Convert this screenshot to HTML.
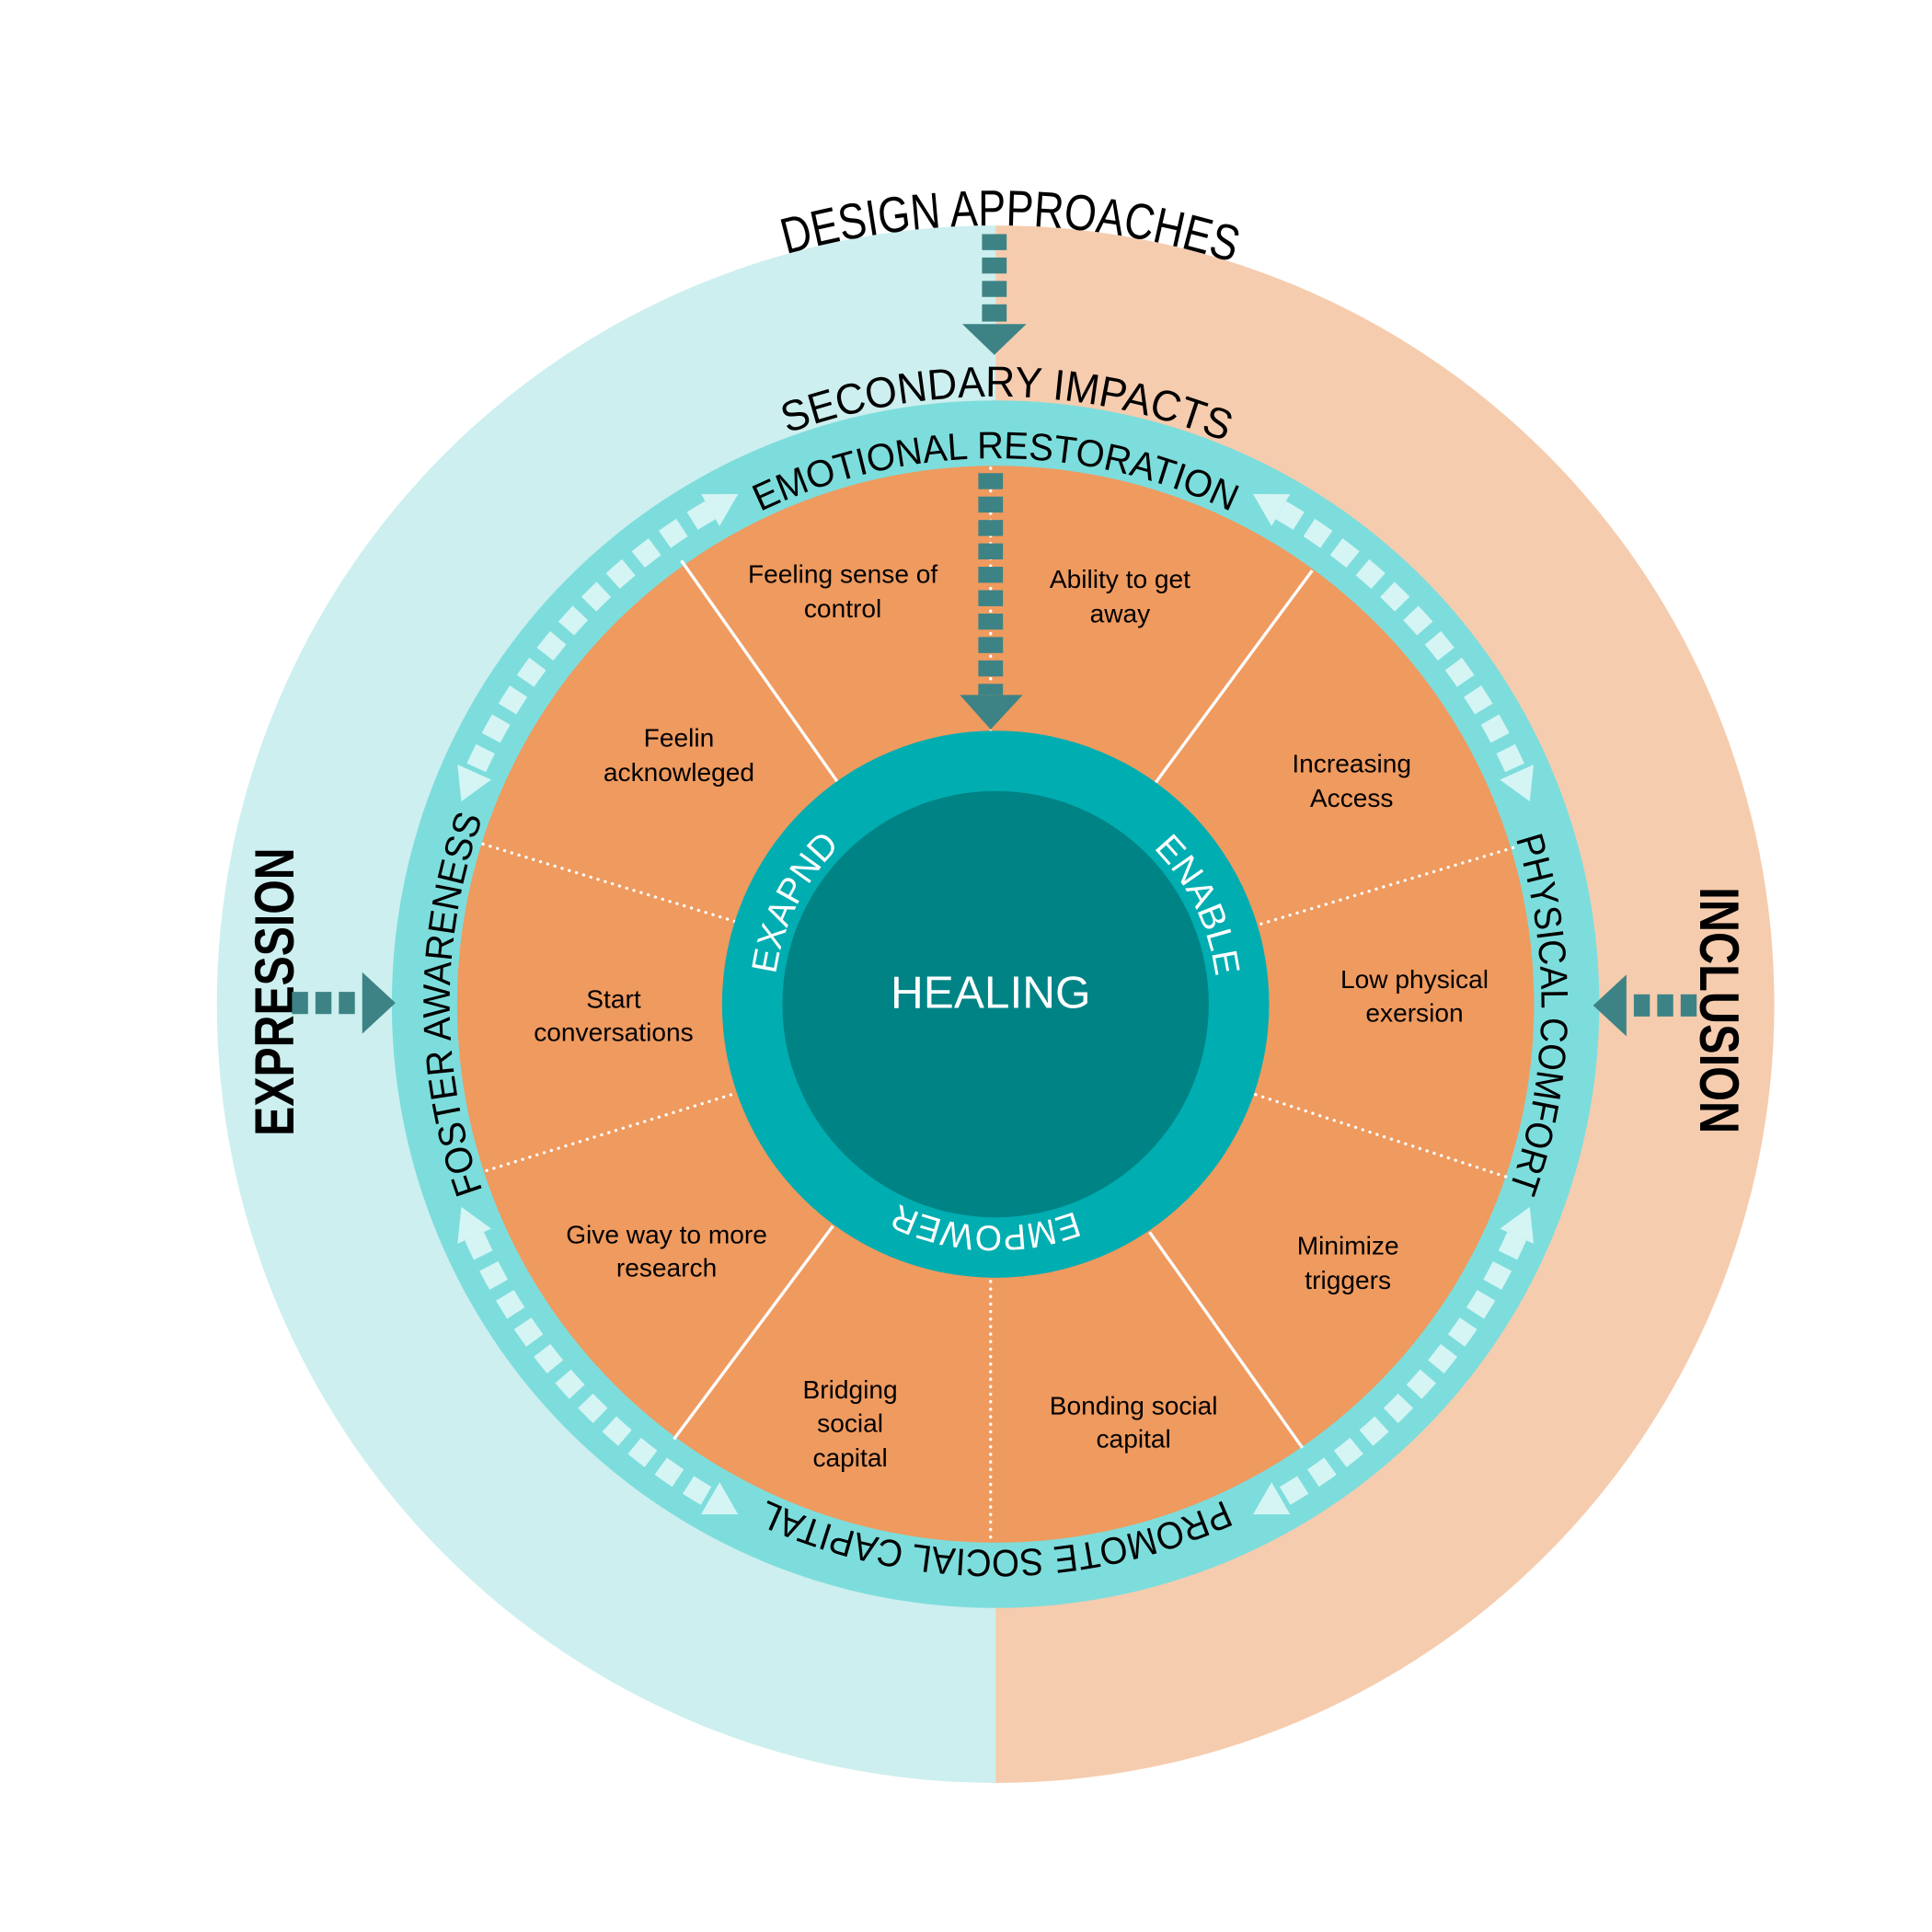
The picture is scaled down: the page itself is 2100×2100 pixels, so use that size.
<!DOCTYPE html>
<html><head><meta charset="utf-8">
<style>html,body{margin:0;padding:0;background:#fff}svg{display:block}
text{font-family:"Liberation Sans",sans-serif}</style></head>
<body>
<svg xmlns="http://www.w3.org/2000/svg" width="2100" height="2100" viewBox="0 0 1568 1568">
<defs>
<marker id="ah" viewBox="-2 -16 30 32" refX="0" refY="0" markerWidth="30" markerHeight="32" markerUnits="userSpaceOnUse" orient="auto-start-reverse">
<path d="M0,-15 L26,0 L0,15 z" fill="#D5F4F4"/></marker>
<path id="pR443" d="M1251,815 A443,443 0 1 1 365,815 A443,443 0 1 1 1251,815"/>
<path id="pL443" d="M365,815 A443,443 0 1 1 1251,815 A443,443 0 1 1 365,815"/>
<path id="pR493" d="M1301,815 A493,493 0 1 1 315,815 A493,493 0 1 1 1301,815"/>
<path id="pR632" d="M1440,815 A632,632 0 1 1 176,815 A632,632 0 1 1 1440,815"/>
<path id="pR180" d="M988,815 A180,180 0 1 1 628,815 A180,180 0 1 1 988,815"/>
</defs>
<path d="M808,183 A632,632 0 0 0 808,1447 Z" fill="#CDEFEF"/>
<path d="M808,183 A632,632 0 0 1 808,1447 Z" fill="#F6CCAE"/>
<circle cx="808" cy="815" r="490" fill="#7DDDDC"/>
<circle cx="808" cy="815" r="437" fill="#EF9A5F"/>
<g stroke="#fff" stroke-width="2.5">
<line x1="553" y1="455" x2="680" y2="635"/>
<line x1="1065" y1="463" x2="938" y2="635"/>
<line x1="547" y1="1168" x2="676" y2="995"/>
<line x1="1057" y1="1175" x2="933" y2="1000"/>
</g>
<g stroke="#fff" stroke-width="2.5" stroke-dasharray="0.1 6" stroke-linecap="round">
<line x1="392" y1="685" x2="597" y2="748"/>
<line x1="1228" y1="688" x2="1023" y2="750"/>
<line x1="395" y1="950" x2="598" y2="887"/>
<line x1="1222" y1="955" x2="1018" y2="888"/>
<line x1="804" y1="1040" x2="804" y2="1250"/>
<line x1="804" y1="380" x2="804" y2="595"/>
</g>
<circle cx="808" cy="815" r="222" fill="#00ADB1"/>
<circle cx="808" cy="815" r="173" fill="#008385"/>
<text x="804" y="818" font-size="37" fill="#fff" text-anchor="middle">HEALING</text>
<g font-size="29" fill="#fff">
<text><textPath href="#pR180" startOffset="57.4%" text-anchor="middle" textLength="119" lengthAdjust="spacingAndGlyphs">EXAPND</textPath></text>
<text><textPath href="#pR180" startOffset="92.8%" text-anchor="middle" textLength="118" lengthAdjust="spacingAndGlyphs">ENABLE</textPath></text>
<text><textPath href="#pR180" startOffset="25.7%" text-anchor="middle" textLength="148" lengthAdjust="spacingAndGlyphs">EMPOWER</textPath></text>
</g>
<g font-size="31" fill="#000">
<text><textPath href="#pR443" startOffset="75%" text-anchor="middle" textLength="395" lengthAdjust="spacingAndGlyphs">EMOTIONAL RESTORATION</textPath></text>
<text><textPath href="#pL443" startOffset="50.3%" text-anchor="middle" textLength="290" lengthAdjust="spacingAndGlyphs">PHYSICAL COMFORT</textPath></text>
<text><textPath href="#pR443" startOffset="50%" text-anchor="middle" textLength="309" lengthAdjust="spacingAndGlyphs">FOSTER AWARENESS</textPath></text>
<text><textPath href="#pR443" startOffset="25%" text-anchor="middle" textLength="383" lengthAdjust="spacingAndGlyphs">PROMOTE SOCIAL CAPITAL</textPath></text>
</g>
<text font-size="35" fill="#000"><textPath href="#pR493" startOffset="75.3%" text-anchor="middle" textLength="364" lengthAdjust="spacingAndGlyphs">SECONDARY IMPACTS</textPath></text>
<text font-size="41" fill="#000"><textPath href="#pR632" startOffset="75.3%" text-anchor="middle" textLength="368" lengthAdjust="spacingAndGlyphs">DESIGN APPROACHES</textPath></text>
<text transform="translate(238,805) rotate(-90)" font-size="45" font-weight="bold" text-anchor="middle" textLength="234" lengthAdjust="spacingAndGlyphs">EXPRESSION</text>
<text transform="translate(1380,820) rotate(90)" font-size="45" font-weight="bold" text-anchor="middle" textLength="200" lengthAdjust="spacingAndGlyphs">INCLUSION</text>
<g fill="none" stroke="#D5F4F4" stroke-width="17" stroke-dasharray="17 10" marker-start="url(#ah)" marker-end="url(#ah)">
<path d="M576.5,414 A463,463 0 0 0 385,626.7"/>
<path d="M1039.5,414 A463,463 0 0 1 1231,626.7"/>
<path d="M385,1003.3 A463,463 0 0 0 576.5,1216"/>
<path d="M1231,1003.3 A463,463 0 0 1 1039.5,1216"/>
</g>
<g fill="#3D8385">
<rect x="797" y="190" width="20" height="13"/><rect x="797" y="209" width="20" height="13"/>
<rect x="797" y="228" width="20" height="13"/><rect x="797" y="247" width="20" height="14"/>
<polygon points="781,263 833,263 807,288"/>
<rect x="794" y="384" width="20" height="13"/><rect x="794" y="403" width="20" height="13"/>
<rect x="794" y="422" width="20" height="13"/><rect x="794" y="441" width="20" height="13"/>
<rect x="794" y="460" width="20" height="13"/><rect x="794" y="479" width="20" height="13"/>
<rect x="794" y="498" width="20" height="13"/><rect x="794" y="517" width="20" height="13"/>
<rect x="794" y="536" width="20" height="13"/><rect x="794" y="555" width="20" height="9"/>
<polygon points="779,564 830,564 804,592"/>
<rect x="237" y="805" width="13" height="18"/><rect x="256" y="805" width="13" height="18"/><rect x="275" y="805" width="13" height="18"/>
<polygon points="294,789 294,839 321,814"/>
<rect x="1326" y="807" width="13" height="18"/><rect x="1345" y="807" width="13" height="18"/><rect x="1364" y="807" width="13" height="18"/>
<polygon points="1320,791 1320,841 1293,816"/>
</g>
<g font-size="21" fill="#000" text-anchor="middle">
<text x="684" y="473">Feeling sense of</text><text x="684" y="501">control</text>
<text x="909" y="477">Ability to get</text><text x="909" y="505">away</text>
<text x="551" y="606">Feelin</text><text x="551" y="634">acknowleged</text>
<text x="1097" y="627">Increasing</text><text x="1097" y="655">Access</text>
<text x="498" y="818">Start</text><text x="498" y="845">conversations</text>
<text x="1148" y="802">Low physical</text><text x="1148" y="829">exersion</text>
<text x="541" y="1009">Give way to more</text><text x="541" y="1036">research</text>
<text x="1094" y="1018">Minimize</text><text x="1094" y="1046">triggers</text>
<text x="690" y="1135">Bridging</text><text x="690" y="1162">social</text><text x="690" y="1190">capital</text>
<text x="920" y="1148">Bonding social</text><text x="920" y="1175">capital</text>
</g>
</svg>
</body></html>
